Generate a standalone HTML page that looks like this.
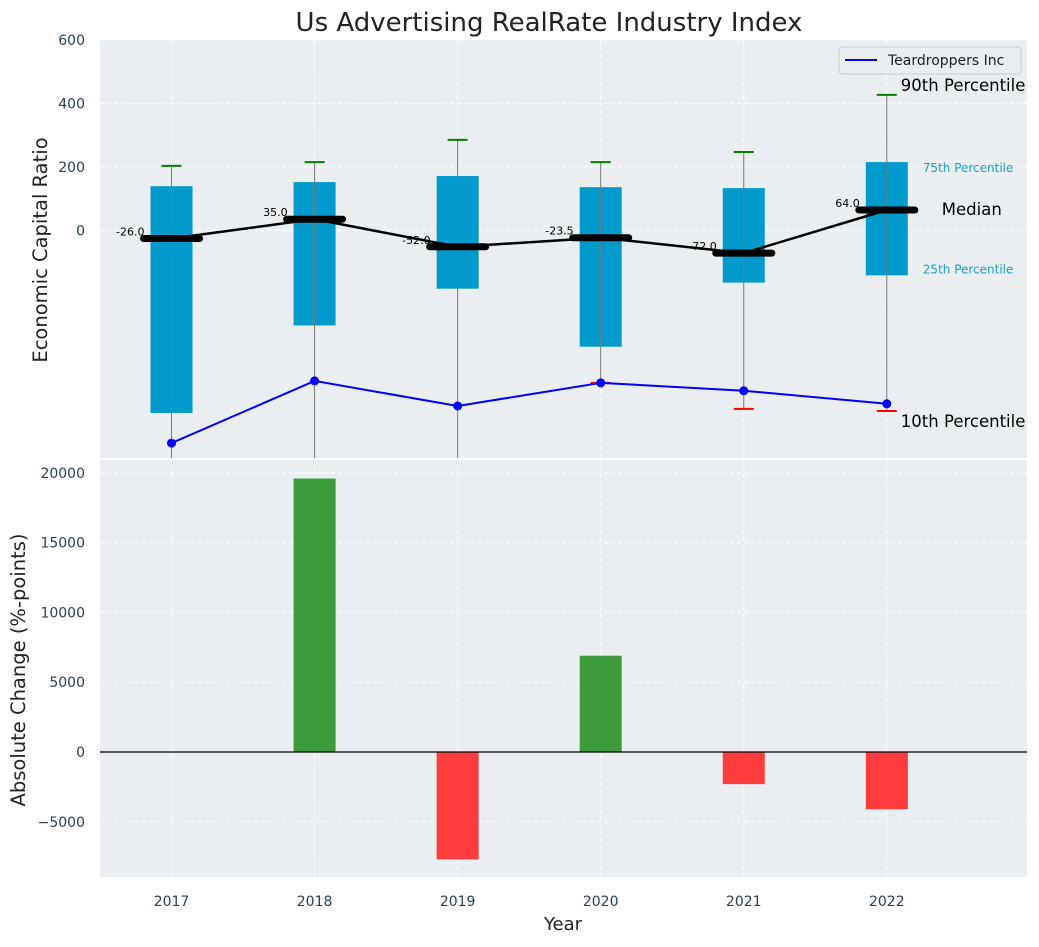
<!DOCTYPE html>
<html><head><meta charset="utf-8">
<style>
body{margin:0;background:#fff;font-family:"Liberation Sans","DejaVu Sans",sans-serif;}
svg text{font-family:"DejaVu Sans","Liberation Sans",sans-serif;}
</style></head>
<body>
<svg id="chart" width="1039" height="942" xmlns="http://www.w3.org/2000/svg"></svg>
<script>
const years=[2017,2018,2019,2020,2021,2022];
const p90=[203,215,285,215,247,427];
const p75=[139,152,171,136,133,215];
const medians=[-26,35,-52,-23.5,-72,64];
const p25=[-576,-300,-184,-367,-165,-142];
const p10=[-900,-900,-900,-481,-563,-570];
const company=[-671,-475,-554,-481,-506,-547];
const changes=[0,19600,-7700,6900,-2300,-4100];
const topTicks=[0,200,400,600];
const botTicks=[-5000,0,5000,10000,15000,20000];

const svg=document.getElementById('chart');
const NS='http://www.w3.org/2000/svg';
function el(tag,attrs,parent,text){const e=document.createElementNS(NS,tag);for(const k in attrs)e.setAttribute(k,attrs[k]);if(text!==undefined)e.textContent=text;(parent||svg).appendChild(e);return e;}
const L=100,R=1027;
const x=v=>L+(v-2016.5)/(2022.98-2016.5)*(R-L);
const T0=40,T1=458; const yT=v=>T0+(600-v)/(600+718)*(T1-T0);
const B0=460,B1=877; const yB=v=>B0+(20930-v)/(20930+8960)*(B1-B0);

let g=el('rect',{x:L,y:T0,width:R-L,height:T1-T0,fill:'#eaeef0'});


g=el('rect',{x:L,y:B0,width:R-L,height:B1-B0,fill:'#eaeef0'});



const defs=el('defs',{});
const cp=el('clipPath',{id:'ct'},defs);el('rect',{x:L,y:T0,width:R-L,height:T1-T0},cp);
const cb=el('clipPath',{id:'cb'},defs);el('rect',{x:L,y:B0,width:R-L,height:B1-B0},cb);
const topG=el('g',{'clip-path':'url(#ct)'});
const botG=el('g',{'clip-path':'url(#cb)'});

years.forEach(yr=>{
  el('line',{x1:x(yr),x2:x(yr),y1:T0,y2:T1,stroke:'#fff','stroke-dasharray':'4,3','stroke-width':1},topG);
  el('line',{x1:x(yr),x2:x(yr),y1:B0,y2:B1,stroke:'#fff','stroke-dasharray':'4,3','stroke-width':1},botG);
});
topTicks.forEach(t=>{
  el('line',{x1:L,x2:R,y1:yT(t),y2:yT(t),stroke:'#fff','stroke-dasharray':'4,3'},topG);
  const tx=el('text',{x:85,y:yT(t)+5,'text-anchor':'end','font-size':14,fill:'#2a3f50'},svg,String(t));
  
  
});
botTicks.forEach(t=>{
  el('line',{x1:L,x2:R,y1:yB(t),y2:yB(t),stroke:'#fff','stroke-dasharray':'4,3'},botG);
  const tx=el('text',{x:85,y:yB(t)+5,'text-anchor':'end','font-size':14,fill:'#2a3f50'},svg,(t<0?'\u2212'+(-t):String(t)));
  
  
});

years.forEach((yr,i)=>{
  const cx=x(yr);
  const b=el('rect',{x:cx-21,y:yT(p75[i]),width:42,height:yT(p25[i])-yT(p75[i]),fill:'#009acd'},topG);
  
  
  el('line',{x1:cx,x2:cx,y1:yT(p90[i]),y2:yT(p10[i]),stroke:'#777','stroke-width':1},topG);
  el('line',{x1:cx-10,x2:cx+10,y1:yT(p90[i]),y2:yT(p90[i]),stroke:'#008000','stroke-width':2},topG);
  el('line',{x1:cx-10,x2:cx+10,y1:yT(p10[i]),y2:yT(p10[i]),stroke:'#ff0000','stroke-width':2},topG);
});
el('polyline',{points:years.map((yr,i)=>x(yr)+','+yT(medians[i])).join(' '),fill:'none',stroke:'#000','stroke-width':2.5},topG);
years.forEach((yr,i)=>{
  const m=el('line',{x1:x(yr)-28,x2:x(yr)+28,y1:yT(medians[i]),y2:yT(medians[i]),stroke:'#000','stroke-width':7,'stroke-linecap':'round'},topG);
  
  
  const t=el('text',{x:x(yr)-27,y:yT(medians[i])-3,'text-anchor':'end','font-size':11,fill:'#000'},topG,medians[i].toFixed(1));
  
  
});
el('polyline',{points:years.map((yr,i)=>x(yr)+','+yT(company[i])).join(' '),fill:'none',stroke:'#0000ff','stroke-width':2},topG);
years.forEach((yr,i)=>{
  const c=el('circle',{cx:x(yr),cy:yT(company[i]),r:4.5,fill:'#0000ff'},topG);
  
  
});
const ax=x(2022);
[['90th Percentile',ax+14,yT(p90[5])-4,16.5,'#000'],['75th Percentile',ax+36,yT(p75[5])+10,12,'#1a9fd0'],['Median',ax+55,yT(medians[5])+5,16.5,'#000'],['25th Percentile',ax+36,yT(p25[5])-2,12,'#1a9fd0'],['10th Percentile',ax+14,yT(p10[5])+16,16.5,'#000']].forEach(a=>{
  const t=el('text',{x:a[1],y:a[2],'font-size':a[3],fill:a[4]},svg,a[0]);
  
  
});
const lg=el('g',{});


el('rect',{x:839,y:47,width:182,height:27,rx:3,fill:'#eaeef0',stroke:'#ccc'},lg);
el('line',{x1:845,x2:877,y1:60,y2:60,stroke:'#0000ff','stroke-width':2},lg);
el('text',{x:888,y:65,'font-size':14,fill:'#222'},lg,'Teardroppers Inc');

years.forEach((yr,i)=>{
  const v=changes[i];
  const y0=yB(Math.max(v,0)),y1=yB(Math.min(v,0));
  const b=el('rect',{x:x(yr)-21,y:y0,width:42,height:y1-y0,fill:v>=0?'#3c9c3c':'#ff3c3c'},botG);
  
  
});
el('line',{x1:L,x2:R,y1:yB(0),y2:yB(0),stroke:'#000','stroke-width':1.2},botG);

years.forEach(yr=>{
  const t=el('text',{x:x(yr),y:906,'text-anchor':'middle','font-size':14,fill:'#2a3f50'},svg,String(yr));
  
  
});
let t=el('text',{x:563,y:930,'text-anchor':'middle','font-size':18,fill:'#222'},svg,'Year');


t=el('text',{x:0,y:0,'text-anchor':'middle','font-size':19.5,fill:'#222',transform:'translate(47,250) rotate(-90)'},svg,'Economic Capital Ratio');


t=el('text',{x:0,y:0,'text-anchor':'middle','font-size':19.5,fill:'#222',transform:'translate(25,670) rotate(-90)'},svg,'Absolute Change (%-points)');


t=el('text',{x:549,y:31,'text-anchor':'middle','font-size':26,fill:'#222'},svg,'Us Advertising RealRate Industry Index');


</script>
</body></html>
